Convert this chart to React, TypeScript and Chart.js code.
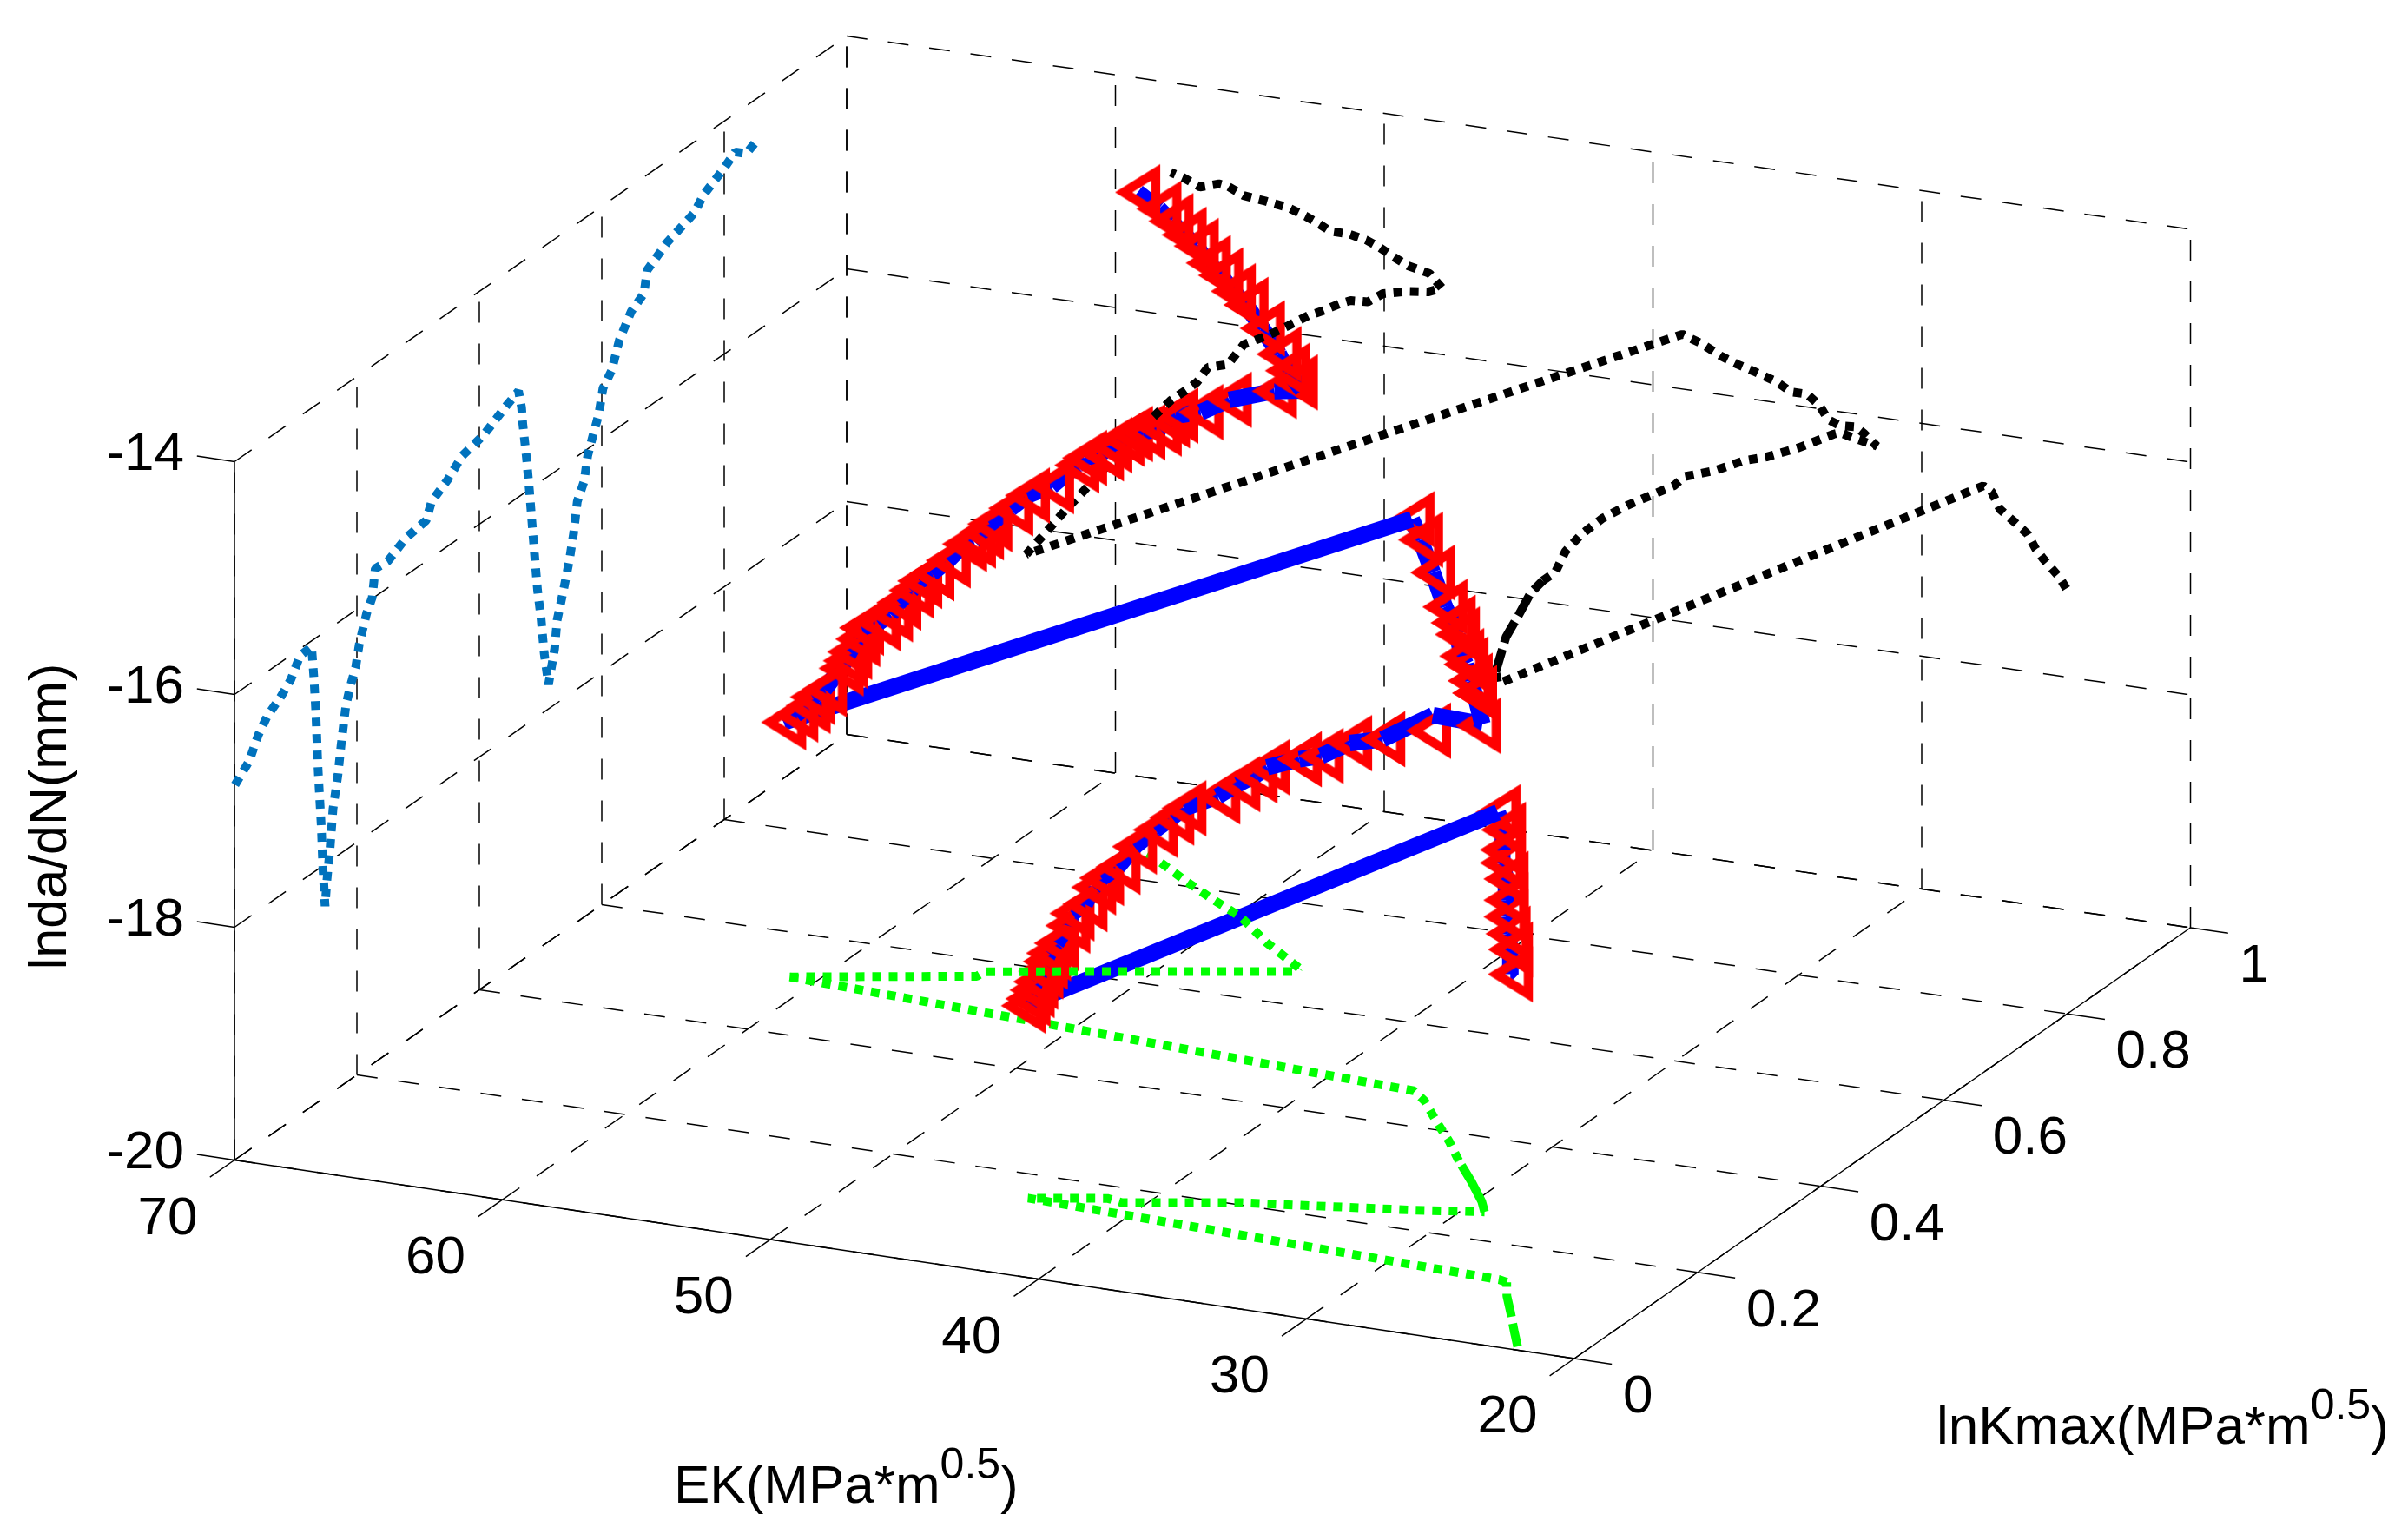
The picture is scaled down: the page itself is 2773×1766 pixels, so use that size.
import React, { useEffect, useRef } from "react";
import { Chart, registerables } from "chart.js";

Chart.register(...registerables);

// ---------- ticks ----------
const ekTicks = [20, 30, 40, 50, 60, 70];
const kTicks = [0, 0.2, 0.4, 0.6, 0.8, 1];
const zTicks = [-20, -18, -16, -14];
const ekTitle = "EK(MPa*m";
const kTitle = "lnKmax(MPa*m";
const zTitle = "lnda/dN(mm)";
const titleSup = "0.5";

// ---------- projection on the wall EK = 70 ----------
const wallK = [0.001,0.024,0.039,0.054,0.075,0.092,0.107,0.126,0.13,0.133,0.136,0.139,0.142,0.144,0.148,0.151,0.156,0.161,0.169,0.174,0.182,0.19,0.198,0.204,0.216,0.225,0.23,0.251,0.28,0.313,0.322,0.348,0.372,0.407,0.442,0.464,0.469,0.471,0.477,0.482,0.486,0.49,0.495,0.501,0.506,0.513,0.523,0.527,0.537,0.547,0.554,0.56,0.571,0.577,0.586,0.595,0.602,0.616,0.629,0.648,0.669,0.674,0.707,0.751,0.766,0.798,0.818,0.836,0.857];
const wallZ = [-16.78,-16.66,-16.49,-16.38,-16.3,-16.21,-16.06,-16.05,-16.35,-16.65,-17.08,-17.38,-17.67,-17.97,-18.36,-18.15,-17.9,-17.57,-17.31,-17.08,-16.76,-16.61,-16.49,-16.31,-16.09,-15.99,-15.76,-15.77,-15.68,-15.65,-15.52,-15.43,-15.31,-15.26,-15.15,-15.09,-15.25,-15.4,-15.71,-16.02,-16.3,-16.58,-16.91,-17.19,-17.5,-17.79,-17.52,-17.29,-17.08,-16.85,-16.64,-16.39,-16.26,-16.06,-15.91,-15.77,-15.57,-15.47,-15.25,-15.08,-15,-14.82,-14.7,-14.61,-14.51,-14.41,-14.33,-14.41,-14.35];

// ---------- projection on the wall K = 1 ----------
const backUnderEK = [24.62,24.88,25.49,25.75,26.06,26.56,27.09,27.4,27.71,45.77,45.85,45.47,45.01,44.55,44.1,43.63,43.26,42.65,41.88,40.97,39.83,39.21,38.83,37.69,36.62,35.78,34.57,33.27,33.04,32.51,31.67,32.13,32.46,33.04,33.5,33.8,34.27,34.87,35.41,36.24,36.85,37.46,38.15,38.91,63.31,63.08,62.56,61.75,61.23,60.31,58.58];
const backUnderZ = [-17.24,-17.15,-17.01,-16.94,-16.82,-16.73,-16.64,-16.5,-16.46,-18.76,-18.66,-18.35,-18.15,-17.94,-17.82,-17.73,-17.54,-17.37,-17.21,-17.07,-16.92,-16.84,-16.75,-16.66,-16.54,-16.48,-16.36,-16.2,-16.18,-16.21,-16.25,-16.16,-16.11,-16.12,-16.08,-15.97,-15.89,-15.89,-15.82,-15.76,-15.72,-15.67,-15.59,-15.53,-18.23,-18.16,-18.01,-17.77,-17.63,-17.37,-16.89];
const backOverEK = [58.58,57.94,57.31,56.96,56.56,55.81,55.23,54.31,53.55,52.81,52.35,51.65,51.25,50.61,50.04,49.11,48.37,47.85,48.31,49.11,49.75,50.15,50.67,51.31,52,52.52,52.92,53.55,54.43,55.23,55.81,56.15,56.85,57.48,57.94];
const backOverZ = [-16.89,-16.73,-16.61,-16.54,-16.4,-16.35,-16.16,-16.05,-15.94,-15.83,-15.78,-15.69,-15.65,-15.64,-15.55,-15.5,-15.48,-15.43,-15.32,-15.28,-15.21,-15.16,-15.11,-15.08,-15.08,-15.02,-14.98,-14.93,-14.9,-14.88,-14.82,-14.81,-14.86,-14.8,-14.77];

// ---------- projection on the floor lnda/dN = -20 ----------
const floorFirstEK = [22.28,23.02,23.96,24.84,25.44,25.78,43.89,41.44,40.79,37.1,34.79,31.53,29.23,29.77,30.99,32.28,33.41,34.62,35.99,36.75,61.01];
const floorFirstK = [0.007,0.034,0.069,0.101,0.127,0.13,0.153,0.175,0.171,0.205,0.219,0.239,0.256,0.275,0.311,0.347,0.381,0.414,0.453,0.469,0.513];
const floorTopEK = [61.01,55.28,55.25,45.65,45.73];
const floorTopK = [0.513,0.567,0.578,0.666,0.674];
const floorLastEK = [45.73,47.85,49.76,51.51,53.04,54.64,55.59];
const floorLastK = [0.674,0.714,0.756,0.784,0.81,0.839,0.853];

// ---------- the curve in space ----------
const curveEK = [
  22.39,22.71,23.12,23.52,23.84,24.16,24.62,24.94,25.22,25.75,
  43.95,43.97,44.02,44.07,44.06,44.1,44.16,44.05,43.81,43.86,43.56,43.42,43.33,42.9,42.47,41.9,41.47,41.2,40.12,39.58,39.12,38.85,37.86,37.23,36.35,35.3,33.8,33.63,32.13,31.97,
  32.45,32.82,33.16,33.5,33.87,34.21,34.7,35.36,36,36.71,
  61.24,60.95,60.65,60.65,60.36,59.9,59.9,59.9,59.76,59.78,59.32,59.02,58.87,58.57,58.41,58.12,57.67,57.22,57.05,56.91,56.76,56.14,55.68,54.94,54.16,54.03,53.56,53.41,53.12,52.96,52.66,52.21,52.06,51.91,51.14,50.24,48.72,48.1,47.84,
  48.55,49.03,49.81,50.58,51.21,51.84,52.46,53.07,53.68,54.33,54.94,55.91,
];
const curveK = [
  0,0.014,0.028,0.042,0.056,0.07,0.084,0.098,0.112,0.126,
  0.148,0.156,0.165,0.173,0.181,0.19,0.198,0.206,0.214,0.223,0.231,0.239,0.248,0.256,0.264,0.273,0.281,0.289,0.297,0.306,0.314,0.322,0.331,0.339,0.347,0.355,0.364,0.364,0.372,0.372,
  0.38,0.389,0.397,0.405,0.414,0.422,0.43,0.439,0.447,0.464,
  0.513,0.52,0.527,0.534,0.541,0.548,0.555,0.562,0.569,0.576,0.583,0.59,0.597,0.604,0.611,0.618,0.625,0.632,0.639,0.646,0.653,0.66,0.667,0.674,0.681,0.688,0.695,0.702,0.709,0.716,0.723,0.73,0.737,0.744,0.751,0.758,0.765,0.772,0.772,
  0.779,0.786,0.793,0.8,0.807,0.814,0.821,0.828,0.835,0.842,0.849,0.857,
];
const curveZ = [
  -16.78,-16.63,-16.56,-16.48,-16.4,-16.28,-16.21,-16.16,-16.05,-15.97,
  -18.33,-18.3,-18.26,-18.22,-18.16,-18.11,-18.07,-18.01,-17.88,-17.81,-17.75,-17.63,-17.58,-17.5,-17.34,-17.21,-17.12,-17.06,-16.95,-16.86,-16.8,-16.75,-16.68,-16.66,-16.55,-16.51,-16.42,-16.28,-16.35,-16.33,
  -16.11,-16.05,-15.95,-15.92,-15.78,-15.72,-15.63,-15.39,-15.16,-15.07,
  -17.82,-17.77,-17.71,-17.66,-17.61,-17.44,-17.4,-17.35,-17.26,-17.19,-17.16,-17.1,-17.02,-16.93,-16.87,-16.82,-16.72,-16.59,-16.58,-16.53,-16.48,-16.35,-16.25,-16.17,-15.99,-15.95,-15.92,-15.87,-15.83,-15.81,-15.81,-15.79,-15.74,-15.72,-15.69,-15.58,-15.48,-15.41,-15.47,
  -15.35,-15.25,-15.08,-14.93,-14.86,-14.77,-14.71,-14.61,-14.56,-14.49,-14.43,-14.35,
];
// 1 = marker, then line on top; 3 = line, then marker on top; 2 = marker only; 0 = line only
const curveRole = [
  3,3,3,3,3,3,3,3,3,1,
  3,3,3,3,3,3,3,3,3,3,3,3,3,3,3,3,3,3,1,1,1,1,1,1,1,1,2,0,2,0,
  3,3,3,3,3,3,3,3,3,1,
  3,3,3,3,3,3,3,3,3,3,3,3,3,3,3,3,3,3,3,3,3,3,3,3,3,3,3,3,3,3,3,3,3,3,1,1,1,2,0,
  3,3,3,3,3,3,3,3,3,3,3,3,
];
const S1_LAST = 9;

// ---------- view ----------
const WIDTH = 2773;
const HEIGHT = 1766;
const FONT = '"Liberation Sans", Arial, sans-serif';

function project(ek: number, k: number, z: number) {
  const e = (ek - 20) / 50;
  return {
    x: 1813 - 1543 * e + 709.5 * k - 4.5 * e * k,
    y: 1564 - 228.5 * e - 496 * k + 6 * e * k - 134 * (z + 20),
  };
}

function triangleSprite() {
  const c = document.createElement("canvas");
  c.width = 80;
  c.height = 80;
  const g = c.getContext("2d")!;
  g.translate(40, 40);
  g.strokeStyle = "#ff0000";
  g.lineWidth = 10.5;
  g.lineJoin = "miter";
  g.miterLimit = 10;
  g.beginPath();
  g.moveTo(-16.1, 0);
  g.lineTo(20.75, -23);
  g.lineTo(20.75, 23);
  g.closePath();
  g.stroke();
  return c;
}

function buildDatasets() {
  const out: any[] = [];
  const line = (pts: { x: number; y: number }[], color: string, width: number, dash: number[] = []) =>
    out.push({
      data: pts,
      showLine: true,
      borderColor: color,
      borderWidth: width,
      borderDash: dash,
      borderCapStyle: "butt",
      borderJoinStyle: "bevel",
      pointRadius: 0,
      tension: 0,
      fill: false,
    });

  const GRID = [24, 24];
  const thin = 1.5;
  // floor grid, EK lines then K lines
  kTicks.forEach((k) => line([project(70, k, -20), project(20, k, -20)], "#000", thin, GRID));
  ekTicks.forEach((ek) => line([project(ek, 0, -20), project(ek, 1, -20)], "#000", thin, GRID));
  // back wall K = 1
  zTicks.forEach((z) => line([project(70, 1, z), project(20, 1, z)], "#000", thin, GRID));
  ekTicks.forEach((ek) => line([project(ek, 1, -20), project(ek, 1, -14)], "#000", thin, GRID));
  // side wall EK = 70
  zTicks.forEach((z) => line([project(70, 0, z), project(70, 1, z)], "#000", thin, GRID));
  kTicks.forEach((k) => line([project(70, k, -20), project(70, k, -14)], "#000", thin, GRID));
  // axes
  line([project(70, 0, -20), project(20, 0, -20)], "#000", thin);
  line([project(20, 0, -20), project(20, 1, -20)], "#000", thin);
  line([project(70, 0, -20), project(70, 0, -14)], "#000", thin);
  // tick marks
  ekTicks.forEach((ek) => line([project(ek, 0, -20), project(ek, -0.04, -20)], "#000", thin));
  kTicks.forEach((k) => line([project(20, k, -20), project(18.6, k, -20)], "#000", thin));
  zTicks.forEach((z) => line([project(70, 0, z), project(71.4, 0, z)], "#000", thin));

  const DOT = [10, 9];
  const LONG = [27, 8];
  const SOLIDISH = [60, 6];
  const DOTW = 10;
  line(wallK.map((k, i) => project(70, k, wallZ[i])), "#0072BD", DOTW, DOT);

  // where samples crowd together, the dots of the original run into long dashes
  const back = backUnderEK.map((ek, i) => project(ek, 1, backUnderZ[i]));
  line(back.slice(0, 11), "#000", DOTW, DOT);
  line(back.slice(10, 15), "#000", DOTW, LONG);
  line(back.slice(14), "#000", DOTW, DOT);

  const floor = floorFirstEK.map((ek, i) => project(ek, floorFirstK[i], -20));
  line(floor.slice(0, 5), "#00ff00", DOTW, LONG);
  line(floor.slice(4, 13), "#00ff00", DOTW, DOT);
  line(floor.slice(12, 16), "#00ff00", DOTW, SOLIDISH);
  line(floor.slice(15), "#00ff00", DOTW, DOT);

  const sprite = triangleSprite();
  const marker = (p: { x: number; y: number }) =>
    out.push({
      data: [p],
      showLine: false,
      pointStyle: sprite,
      pointRadius: 30,
      pointBorderWidth: 0,
    });
  for (let i = 0; i < curveRole.length; i++) {
    const p = project(curveEK[i], curveK[i], curveZ[i]);
    const role = curveRole[i];
    const seg = () => {
      let j = i + 1;
      while (j < curveRole.length && curveRole[j] === 2) j++;
      if (j < curveRole.length) {
        line([p, project(curveEK[j], curveK[j], curveZ[j])], "#0000ff", 19);
      }
    };
    if (role === 3) {
      seg();
      marker(p);
    } else if (role === 1) {
      marker(p);
      seg();
    } else if (role === 2) {
      marker(p);
    } else {
      seg();
    }
    if (i === S1_LAST) {
      line(floorLastEK.map((ek, n) => project(ek, floorLastK[n], -20)), "#00ff00", DOTW, DOT);
    }
  }
  line(floorTopEK.map((ek, i) => project(ek, floorTopK[i], -20)), "#00ff00", DOTW, DOT);
  line(backOverEK.map((ek, i) => project(ek, 1, backOverZ[i])), "#000", DOTW, DOT);

  out.forEach((d, i) => (d.order = out.length - i));
  return out;
}

const labelsPlugin = {
  id: "labels3d",
  afterDraw(chart: any) {
    const ctx = chart.ctx;
    const sx = chart.scales.x;
    const sy = chart.scales.y;
    const at = (ek: number, k: number, z: number) => {
      const p = project(ek, k, z);
      return { x: sx.getPixelForValue(p.x), y: sy.getPixelForValue(p.y) };
    };
    ctx.save();
    ctx.fillStyle = "#000";
    ctx.textBaseline = "alphabetic";
    ctx.font = `62px ${FONT}`;

    ctx.textAlign = "right";
    zTicks.forEach((z) => {
      const p = at(70, 0, z);
      ctx.fillText(String(z), p.x - 58, p.y + 9);
    });
    ctx.textAlign = "center";
    ekTicks.forEach((ek) => {
      const p = at(ek, 0, -20);
      ctx.fillText(String(ek), p.x - 77, p.y + 85);
    });
    ctx.textAlign = "left";
    kTicks.forEach((k) => {
      const p = at(20, k, -20);
      ctx.fillText(String(k), p.x + 56, p.y + 62);
    });

    const supTitle = (text: string, x: number, y: number) => {
      ctx.textAlign = "left";
      ctx.font = `62px ${FONT}`;
      ctx.fillText(text, x, y);
      let cx = x + ctx.measureText(text).width;
      ctx.font = `50px ${FONT}`;
      ctx.fillText(titleSup, cx, y - 28);
      cx += ctx.measureText(titleSup).width;
      ctx.font = `62px ${FONT}`;
      ctx.fillText(")", cx, y);
    };
    supTitle(ekTitle, 776, 1730);
    supTitle(kTitle, 2230, 1662);

    ctx.save();
    ctx.translate(76, 940);
    ctx.rotate(-Math.PI / 2);
    ctx.textAlign = "center";
    ctx.font = `61px ${FONT}`;
    ctx.fillText(zTitle, 0, 0);
    ctx.restore();
    ctx.restore();
  },
};

export default function App() {
  const ref = useRef<HTMLCanvasElement | null>(null);
  useEffect(() => {
    const chart = new Chart(ref.current!, {
      type: "scatter",
      data: { datasets: buildDatasets() },
      options: {
        animation: false,
        responsive: false,
        devicePixelRatio: 1,
        layout: { padding: 0, autoPadding: false },
        plugins: { legend: { display: false }, tooltip: { enabled: false }, title: { display: false } },
        scales: {
          x: { type: "linear", min: 0, max: WIDTH, display: false },
          y: { type: "linear", min: 0, max: HEIGHT, reverse: true, display: false },
        },
      } as any,
      plugins: [labelsPlugin],
    } as any);
    return () => chart.destroy();
  }, []);
  return (
    <div style={{ position: "fixed", left: 0, top: 0, width: WIDTH, height: HEIGHT, background: "#fff" }}>
      <canvas ref={ref} width={WIDTH} height={HEIGHT} style={{ display: "block" }} />
    </div>
  );
}
